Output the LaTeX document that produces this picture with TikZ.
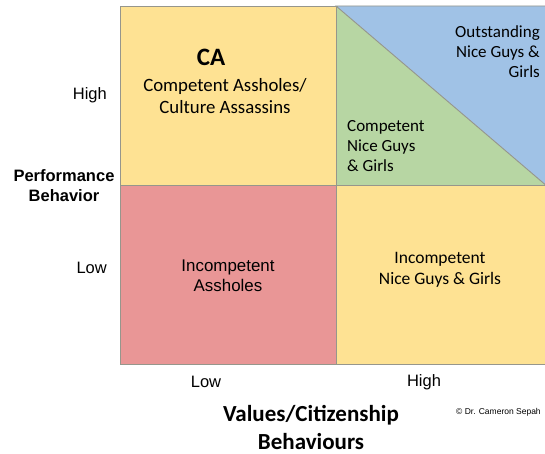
\documentclass[tikz,border=0pt]{standalone}
\usepackage{fontspec}
\setmainfont{Carlito}
\newfontfamily\arialfont{Liberation Sans}
\usetikzlibrary{positioning}
\definecolor{cayellow}{RGB}{254,226,147}
\definecolor{cared}{RGB}{233,150,150}
\definecolor{cagreen}{RGB}{183,214,163}
\definecolor{cablue}{RGB}{160,194,230}
\definecolor{cagrid}{RGB}{150,150,140}

\begin{document}
\begin{tikzpicture}[x=1pt,y=-1pt]
  \useasboundingbox (0,0) rectangle (545,454);
			\begin{scope}[draw=cagrid,line width=0.9pt]
    \filldraw[fill=cayellow] (120,6) rectangle (336,185);
    \filldraw[fill=cagreen] (336,6) rectangle (548,185);
    \filldraw[fill=cablue] (336,6) -- (548,6) -- (548,187) -- cycle;
    \filldraw[fill=cared] (120,185) rectangle (336,364);
    \filldraw[fill=cayellow] (336,185) rectangle (548,364);
			\end{scope}
			\begin{scope}[every node/.style={inner sep=0pt,align=center,font=\fontsize{18.8}{22}\selectfont}]
    \node (ca) at (211,57) {\fontsize{25}{28}\selectfont\bfseries CA};
    \node (cass) at (225,96) {Competent Assholes/\\Culture Assassins};
    \node[anchor=west,align=left,font=\fontsize{17}{20}\selectfont] (cnice) at (347,146) {Competent\\Nice Guys\\\& Girls};
    \node[anchor=east,align=right,font=\fontsize{17}{20}\selectfont] (onice) at (540,52) {Outstanding\\Nice Guys \&\\Girls};
    \node[font=\arialfont\fontsize{16.9}{20}\selectfont] (iass) at (228,276) {Incompetent\\Assholes};
    \node[font=\fontsize{17.5}{21}\selectfont] (inice) at (440,270) {Incompetent\\Nice Guys \& Girls};
			\end{scope}
			\begin{scope}[every node/.style={inner sep=0pt,font=\arialfont\fontsize{16.5}{20}\selectfont}]
    \node[anchor=east] (yhigh) at (107,95) {High};
    \node[anchor=east] (ylow) at (107,268) {Low};
    \node (xlow) at (206,382) {Low};
    \node (xhigh) at (424,382) {High};
    \node[align=center,font=\arialfont\bfseries\fontsize{16.5}{20}\selectfont] (yaxis) at (64,186) {Performance\\Behavior};
    \node[align=center,font=\bfseries\fontsize{23}{28}\selectfont] (xaxis) at (311,427) {Values/Citizenship\\Behaviours};
    \node[anchor=west,font=\arialfont\fontsize{8.5}{9}\selectfont] (copy) at (456,412) {\textcopyright{} Dr. Cameron Sepah};
			\end{scope}
\end{tikzpicture}
\end{document}
